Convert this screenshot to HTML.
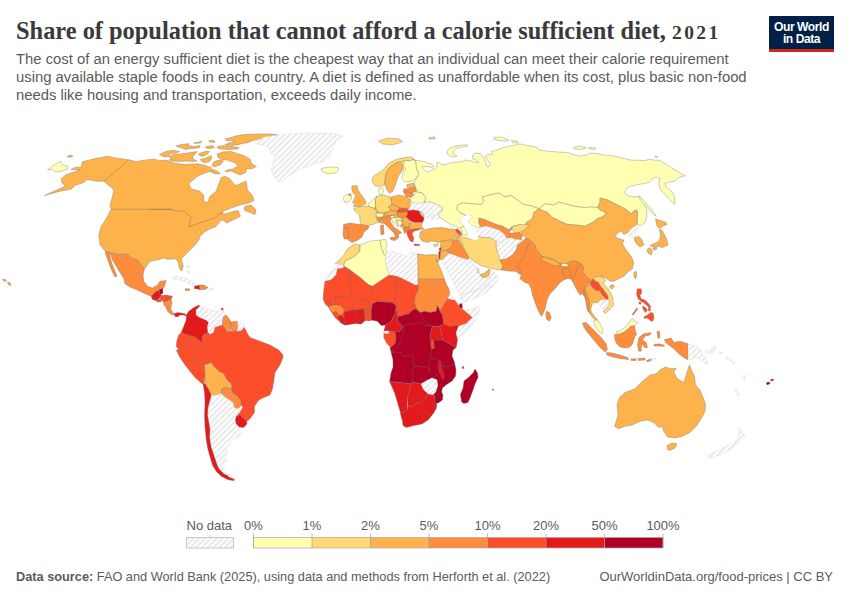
<!DOCTYPE html>
<html><head><meta charset="utf-8">
<style>
html,body{margin:0;padding:0;background:#fff;}
body{width:850px;height:600px;position:relative;overflow:hidden;font-family:"Liberation Sans",sans-serif;}
#title{position:absolute;left:16px;top:16.5px;font-family:"Liberation Serif",serif;font-weight:bold;font-size:24.4px;color:#3a3a3a;white-space:nowrap;letter-spacing:0px;line-height:28px;}
#sub{position:absolute;left:16px;top:49.5px;font-size:14.83px;line-height:18px;color:#5b5b5b;white-space:nowrap;}
#logo{position:absolute;left:769px;top:16px;width:65px;height:36px;background:#002147;border-bottom:0;}
#logo:after{content:"";position:absolute;left:0;right:0;bottom:0;height:3px;background:#ce261e;}
#logo div{position:absolute;left:0;right:0;text-align:center;color:#fff;font-weight:bold;font-size:12.1px;line-height:12px;letter-spacing:-0.45px;}
.lg{position:absolute;font-size:13px;color:#5b5b5b;top:518px;white-space:nowrap;}
#foot1{position:absolute;left:16px;top:569px;font-size:12.75px;color:#5b5b5b;white-space:nowrap;}
#foot2{position:absolute;right:17px;top:569px;font-size:13px;color:#5b5b5b;white-space:nowrap;}
svg{position:absolute;left:0;top:0;}
</style></head><body>
<div id="title">Share of population that cannot afford a calorie sufficient diet, <span style="font-size:19.5px;letter-spacing:2.4px">2021</span></div>
<div id="sub">The cost of an energy sufficient diet is the cheapest way that an individual can meet their calorie requirement<br>using available staple foods in each country. A diet is defined as unaffordable when its cost, plus basic non-food<br>needs like housing and transportation, exceeds daily income.</div>
<div id="logo"><div style="top:4.5px">Our World</div><div style="top:16.5px">in Data</div></div>
<svg width="850" height="600" viewBox="0 0 850 600">
<defs><pattern id="hatch" width="4.1" height="4.1" patternUnits="userSpaceOnUse" patternTransform="rotate(-45)"><rect width="4.1" height="4.1" fill="#fff"/><rect width="4.1" height="2" fill="#e9e9e9"/></pattern></defs>
<g stroke="#6b6b6b" stroke-width="0.35" stroke-linejoin="round">
<path d="M70.8,169.5L75,167.5L81.2,167L82.5,161.8L93.8,158.8L107.5,156.2L117.5,158.2L128.8,159.8L136.2,161.5L145,160L153,159L160,160.5L166.2,160L175,163.2L185,164.5L197.5,163.8L203.8,165L211.2,167.5L212.5,171.2L206.2,172.5L197.5,176.2L188.8,183.8L191.2,188.8L200,191.2L203.8,195.5L203.8,201.2L207.5,202.5L210,196.2L216.2,191.2L218.8,183.8L221.2,177.5L225,176.2L230,178.8L233.8,183.8L236.2,185.5L242.5,182.5L246.2,181.2L247.5,190L252.5,195.5L253.8,200.5L248.8,203L240,205L232.5,207.5L225,210.5L221.2,213L225,214L232.5,211.5L238,210.5L240.5,216.2L233,220L226.2,223.2L225,221.2L221.2,220L216.2,226.2L208.8,229.5L203.8,232.5L200,236.2L198.8,240L196.2,243.8L192.5,247.5L187.5,252.5L183.8,256.2L181.2,258.8L183.2,266.2L181.8,271.2L179.5,268.8L178,261.2L175,258.8L167.5,259.5L163.8,258L157.5,260L150,261.2L144.5,268.8L141.2,265L137.5,260L132.5,258.8L127.5,254.2L117.5,254.2L110,251.8L105.5,251.8L100,245L98.8,235L101.2,226.2L106.2,218.8L110,211.2L111.2,209.2L110,205L112.5,196.2L113.8,190L110,186.2L105,182.5L103.8,181.2L96.2,181.2L87.5,179.5L83.8,182.5L75,185.5L71.2,189.2L60,191.2L44.5,195.5L53.8,191.2L65.5,186.2L62,183L61.2,178.8L65.5,175L73.8,172L80,170Z" fill="#feb24c"/>
<path d="M245,206.2L251.2,205L256.2,210L255,214.5L250,212.5L246.2,211.2L243.8,209.5Z" fill="#feb24c"/>
<path d="M225.1,139L231.4,137.4L236.1,135.8L243.9,134.6L256.4,133.9L268.9,133.9L277.5,134.6L272.1,136.6L262.7,138.2L253.3,140.5L247,142.9L242.3,143.6L237.6,144.9L231.4,145.5L225.1,144.9L228.2,142.9L234.5,141.8L231.4,140.5L226.7,140.8Z" fill="#feb24c"/>
<path d="M217.3,146.5L223.6,145.5L231.4,146.5L239.2,147.6L237.6,149.1L228.2,149.6L220.4,149.1L217.6,148Z" fill="#feb24c"/>
<path d="M175.8,146L181.3,144.4L189.1,143.6L187.6,145.5L193.8,146.5L200.1,145.5L199.8,147.6L195.4,148.3L189.1,148.7L186,149.6L181.3,148Z" fill="#feb24c"/>
<path d="M193.8,142.9L201.6,141.3L200.9,142.9L195.4,143.6Z" fill="#feb24c"/>
<path d="M208.7,140.8L214.2,140.5L214.9,142.4L209.5,142.1Z" fill="#feb24c"/>
<path d="M205.6,146.8L212.6,145.5L214.2,147.6L209.5,148.7L206,148Z" fill="#feb24c"/>
<path d="M159.4,154.6L165.6,151.5L173.5,150.2L179.7,151.5L176.6,153L170.3,153.8L168.8,156.2L164.1,157Z" fill="#feb24c"/>
<path d="M168.8,157L173.5,154.6L181.3,153.8L189.1,152.7L196.9,151.5L195.4,153.8L192.3,157L193.8,159.3L196.9,160.9L192.3,161.6L186,160.9L179.7,161.6L173.5,161.2L168.8,160.1L171.9,158.5Z" fill="#feb24c"/>
<path d="M198.5,153.8L204.8,151.5L209.5,151.2L207.9,153.8L203.2,156.2L200.1,155.9Z" fill="#feb24c"/>
<path d="M200.1,159.3L204.8,158.5L211,155.4L211.8,158.5L209.5,161.6L204.8,162.7L201.6,161.6Z" fill="#feb24c"/>
<path d="M217.3,153.8L223.6,151.8L231.4,151.5L237.6,153.8L243.9,155.4L250.2,159.3L251.7,164L256.4,166.3L251.7,169L247,168.4L245.5,172.6L240.8,174.9L236.1,173.4L231.4,171L225.1,171.8L226.7,169.9L232.9,169L237.6,166.3L236.1,163.2L231.4,161.6L226.7,160.1L220.4,159.3L217.6,157Z" fill="#feb24c"/>
<path d="M212.6,169.5L217.3,171L220.4,173.4L215.7,174.2L211.8,172.6Z" fill="#feb24c"/>
<path d="M211.8,164.8L214.2,161.6L218.9,160.1L223.6,160.9L220.4,164.8L214.2,167.1Z" fill="#feb24c"/>
<path d="M47.5,170L53.8,165L60.8,161.2L62.5,165L67.5,166.2L68,168.8L61.2,171.2L56.2,172L52.5,169.5Z" fill="#ffffb2"/>
<path d="M67,156.2L71.2,155L73,156.5L68.8,157.5Z" fill="#feb24c"/>
<path d="M255,142L263.8,137L275,135.5L290,133.8L305,133L322.5,133L335,133.8L343.8,136.2L336.2,140L335,145L331.2,151.2L330,157.5L325,161.2L315,163.8L305,167.5L296.2,171.2L288.8,176.2L282.5,181.2L277.5,181.2L273.8,176.2L271.2,170L272.5,163.8L275,157.5L270,152.5L268.8,147.5L262.5,145L255,143.8Z" fill="url(#hatch)" stroke="#d4d4d4"/>
<path d="M321.2,168.8L325,167.5L331.2,167L337.5,167.5L338.8,170L336.2,172.5L330,173.8L325,173L322,171.2Z" fill="#ffffb2"/>
<path d="M2.5,279.5L5,279L6.5,281L4,281.5Z" fill="#feb24c"/>
<path d="M7.5,282L10,282.5L11,285.5L8.5,285Z" fill="#feb24c"/>
<path d="M187,334L195,335.5L191,340Z" fill="#fc4e2a" stroke="none"/>
<path d="M110,252.5L117.5,254.5L127.5,254.5L132.5,258.8L137.5,260L141.2,265L144.5,268.8L143,275L143.8,281.2L147.5,286.2L152.5,288L157.5,285L160,281.2L166.2,280.5L164.5,286.2L162.5,289.5L159.5,290L157,291.2L153.8,293.8L151.2,296.2L145,293.8L137.5,290L130,287L125,283.8L123.8,278.8L120,272.5L116.2,266.2L112.5,260Z" fill="#fd8d3c"/>
<path d="M105.5,251.8L109.5,252L110.5,258.8L112.5,265L115,271.2L117,276.2L115,277L112,271.2L109.5,265L107.5,258.8L105.5,253.8Z" fill="#fd8d3c"/>
<path d="M159,290L162.5,288.2L163,293L160.2,295Z" fill="#b10026"/>
<path d="M151.2,296.2L153.8,293.8L156.2,291.2L159.5,290.8L160,293.8L161.2,295.5L158.8,298.8L155.5,300.5L152.5,299.5Z" fill="#e31a1c"/>
<path d="M161.2,295.5L166.2,295L172.5,296.2L171.2,298.8L167,301.2L163.8,302L161.2,300L159.5,298.8Z" fill="#fc4e2a"/>
<path d="M155.5,300.5L158.8,299L161.2,300.2L160.8,302L157,301.8Z" fill="#fc4e2a"/>
<path d="M163.8,302L167,301.2L171.2,298.8L172,303.8L170.5,308.8L166.2,307.5L163.8,305Z" fill="#fd8d3c"/>
<path d="M166.2,307.5L170.5,308.8L173,312.5L173.8,315L171.2,314.5L167.5,311.2Z" fill="#fd8d3c"/>
<path d="M173.8,313.8L177.5,312.5L181.2,313L185,313.8L186.2,316.2L183.8,315L180,315L177.5,317L175,316.2Z" fill="#e31a1c"/>
<path d="M171.2,277.5L177.5,276.2L185,277.5L191.2,281.2L196.2,284.5L192.5,285L186.2,282.5L180,280L173.8,279.5Z" fill="url(#hatch)" stroke="#d4d4d4"/>
<path d="M185,288.8L189.5,288.8L189.5,290.5L185.5,290.5Z" fill="#fd8d3c"/>
<path d="M194.5,286.2L199.5,285L200,289.5L196.2,288.8L194.5,288.8Z" fill="#e31a1c"/>
<path d="M199.5,285L203.8,285L208,287.5L205,289.5L200,289.5Z" fill="#fd8d3c"/>
<path d="M209.5,288.2L213.8,288.2L213.8,289.8L209.5,289.8Z" fill="url(#hatch)" stroke="#d4d4d4"/>
<path d="M186.2,266.2L188.8,265.8L189.2,268L186.8,268Z" fill="url(#hatch)" stroke="#d4d4d4"/>
<path d="M187.5,271.2L189.2,270.8L189.5,273.8L187.8,274Z" fill="url(#hatch)" stroke="#d4d4d4"/>
<path d="M221.2,308.2L223,308L223.2,310.5L221.5,310.8Z" fill="#e31a1c"/>
<path d="M186.2,315L188.8,311.2L193.8,307.5L198.8,305L200,306.2L196.2,310L196.2,315L200,317.5L206.2,320L208.8,322.5L207.5,326.2L208,332.5L205,333.8L202.5,336.2L202.5,343.8L198.8,340L193.8,336.2L188.8,335L183.8,333.8L181.2,332.5L183.8,326.2L186.2,320Z" fill="#e31a1c"/>
<path d="M196.2,310L200,306.2L205,307.5L211.2,310L217.5,311.2L222.5,310L225,313.8L223.8,317.5L222.5,322.5L218.8,326.2L215,327.5L213.8,332.5L210,334.5L208,332.5L207.5,326.2L208.8,322.5L206.2,320L200,317.5L196.2,315Z" fill="url(#hatch)" stroke="#d4d4d4"/>
<path d="M223.8,316.2L226.2,315L230,320L231.2,325L230,331.2L227.5,333L225,328.8L222.5,325L222.5,321.2Z" fill="#fd8d3c"/>
<path d="M230,322L237.5,321.2L238,327.5L236.2,331.2L231.2,330.5L231.2,325Z" fill="#fd8d3c"/>
<path d="M237.5,322L242.5,323.8L244.5,327.5L240.5,331.2L238,330L238,326.2Z" fill="url(#hatch)" stroke="#d4d4d4"/>
<path d="M181.2,332.5L183.8,333.8L188.8,335L190,338.8L186.2,343.8L182.5,347.5L178.8,350L176.2,346.2L177,340L178.8,335Z" fill="#fc4e2a"/>
<path d="M178.8,350L182.5,347.5L186.2,343.8L190,338.8L193.8,336.2L198.8,340L202.5,343.8L198.8,346.2L195,350L193.8,356.2L198.8,362.5L203.8,363L204.5,365L205,375L203.8,384.5L201.2,383L195,377.5L185,365L180,357.5L176.2,350Z" fill="#fc4e2a"/>
<path d="M202.5,343.8L202.5,336.2L205,333.8L208,332.5L210,334.5L213.8,332.5L215,327.5L218.8,326.2L222.5,325L225,328.8L227.5,333L230,331.2L236.2,331.2L240.5,331.2L244.5,327.5L247.5,333.8L250,337.5L260,341.2L270,345L278.8,350L283,355L283,357.5L280,365L275,372.5L273.8,381.2L272.5,388.8L270,395L263.8,397.5L258.8,400L254.5,406.2L254.5,412.5L250,418.8L246.2,422L240,415L236.2,416.2L239.5,412.5L242.5,407.5L241.2,405.5L240.5,400L237.5,396.2L232.5,392.5L231.2,388.8L232,388L231.2,383.8L227,380L223.8,373.8L218.8,371.2L213.8,366.2L211.2,362.5L204.5,365L203.8,363L198.8,362.5L193.8,356.2L195,350L198.8,346.2Z" fill="#fc4e2a"/>
<path d="M204.5,365L211.2,362.5L213.8,366.2L218.8,371.2L223.8,373.8L227,380L231.2,383.8L232,388L225.5,387.5L222,388.8L221.2,393.8L216.2,395L211.2,395.5L208.8,390L205,383.8L205,375Z" fill="#feb24c"/>
<path d="M222,388.8L225.5,387.5L231.2,388.8L232.5,392.5L237.5,396.2L240.5,400L241.2,405.5L238.8,408.8L234.5,408L233,402.5L227.5,398.8L223.8,396.2L221.2,392.5Z" fill="#fd8d3c"/>
<path d="M236.2,416.2L240,415L246.2,421.2L247,423.8L243.8,427.5L238.8,427L235.8,423.8L235,419.5Z" fill="#e31a1c"/>
<path d="M211.2,395.5L216.2,395L221.2,393.8L223.8,396.2L227.5,398.8L233,402.5L234.5,408L238.8,408.8L241.2,405.5L242.5,407.5L239.5,412.5L236.2,416.2L235,419.5L235.8,423.8L238.8,427L240.5,432.5L239.5,436.2L235,438.8L231.2,440L230,445L226.2,447.5L227,452.5L224.5,457.5L227.5,461.2L225.5,465L222.5,467.5L223.8,471.2L227.5,473.8L228.8,476.2L223.8,473.8L218.8,468.8L216.2,462.5L213.8,455L211.2,447.5L209.5,437.5L210,430L208.8,422.5L207.5,415L208,407.5L210,400Z" fill="url(#hatch)" stroke="#d4d4d4"/>
<path d="M203,383.8L205,383.8L208.8,390L211.2,395.5L210,400L208,407.5L207.5,415L208.8,422.5L210,430L209.5,437.5L211.2,447.5L213.8,455L216.2,462.5L218.8,468.8L223.8,473.8L228.8,476.2L234.5,478.8L233.8,480.8L227.5,479.5L221.2,476.2L216.2,471.2L212.5,465L209.5,455L207.5,447.5L206.2,438.8L205,427.5L204.5,415L205,402.5L204.5,392.5Z" fill="#e31a1c"/>
<path d="M227,473.2L232.5,477L236.2,478.8L234.5,479.2L228.8,476.8Z" fill="url(#hatch)" stroke="#d4d4d4"/>
<path d="M458.5,235.5L460,235L470,257L465,257.5L458,242Z" fill="#fed976" stroke="none"/>
<path d="M360,210L370,205.6L376.4,198.4L390,197.4L406,197.2L410,200L410.6,208L408,210L407,217L410,223L409.6,228.6L406,230L403,227L399,224.4L394.4,219L390,217L378,218.4L375.6,222L362,223Z" fill="#feb24c" stroke="none"/>
<path d="M386.4,172.4L390,167.2L397,162.6L400.4,161.6L404.4,160L403.6,164L399,164.4L390.4,170.4L387.2,180L385.8,184.4Z" fill="#fed976" stroke="none"/>
<path d="M343.6,197L347,194.4L351,195L351.6,199L349,201.6L345,202.4L343.6,200Z" fill="#ffffb2"/>
<path d="M352,186L357,185.6L358,190L360,193L363,197L366,201.6L365.6,204L360,206.4L353,206.6L355,204L352.4,202.4L354.4,199L355.6,195.6L353,193L351.6,189Z" fill="#feb24c"/>
<path d="M348.4,194L351,193.6L351,195.6L349,196Z" fill="#feb24c"/>
<path d="M372.4,177L375,175L382,171L389,163L396,159.6L404,157.6L412,157L414,159L410,161L405,160.4L400,162L397,162.4L390,167L386,173L385,180L384.4,185L380,186.4L375,186L372.4,182Z" fill="#fed976"/>
<path d="M386,173L390,167L397,162.4L400,162L403,165L403.6,169L399,175L397,180L395,186L393,191L389.6,193.6L387,190L385,185L385,180Z" fill="#feb24c"/>
<path d="M403,165L405,160.4L410,161L414,159L416,162L416.4,168L419,174L416,179L410,181.6L404,181.6L401.6,178L403,173L406,169Z" fill="#ffffb2"/>
<path d="M379,188.4L382.4,187.6L383.6,191L382.4,194.4L379.6,194.4L378.4,191.6Z" fill="#ffffb2"/>
<path d="M407,184.4L414,183L415.6,187L409,188.4L407,187Z" fill="#feb24c"/>
<path d="M403.6,189L409,188.4L415.6,187.6L417,191L412,193L407,192L403.6,192.4Z" fill="#fd8d3c"/>
<path d="M404,192.6L407,192L412,193L414,195L411,197.6L406,196.4Z" fill="#fd8d3c"/>
<path d="M411,197.6L414,195L417,191.6L422.4,193L426,198L424,202.4L418,203.6L411,202.4L410,199.6Z" fill="#ffffb2"/>
<path d="M391,197L399,195L406,196.4L410,199.6L411,203L409.6,208L403,208.4L398,207L392,204L391,200Z" fill="#feb24c"/>
<path d="M376.4,196.4L382.4,195L390,196.4L391,200L392,204L388.4,207L391,210.4L387,212.4L381,213L376.4,211L375.6,206L375,201Z" fill="#fed976"/>
<path d="M370,202.4L375,198L376.4,196.4L375,201L375.6,206L373.6,208.4L369,206.4L368,204Z" fill="#ffffb2"/>
<path d="M353.6,208.4L360,207L365,206L369,206.4L373.6,208.4L376.4,211L378,214L375.6,216L377,219L378,222.4L373,224.4L367,225.6L361,225L360,221L359.6,215L355,211Z" fill="#fed976"/>
<path d="M375.6,213.6L381,213L384,214.4L382.4,217L377,217Z" fill="#ffffb2"/>
<path d="M384,214.4L387,212.4L391,210.4L397,211L397.6,213.6L393,215.6L388,215.6Z" fill="#feb24c"/>
<path d="M388.4,207L392,204L398,207L400,208.4L397,211L391,210.4Z" fill="#feb24c"/>
<path d="M397,211L400,208.4L403,208.4L408.4,209L407,211.6L401,212.4L397.6,212.4Z" fill="#fc4e2a"/>
<path d="M397.6,212.4L401,212.4L407,211.6L408,213.6L405,217L400,217.6L397,215.6Z" fill="#fd8d3c"/>
<path d="M410,202.4L418,203.6L424,202.4L430,201.6L436,204L442.4,207L442,211L438,213.6L433,215L434,218L429,219L425.6,217L424,217.6L422.4,212.4L419,211L414,210L408.4,210.4L409.6,208L411,205Z" fill="url(#hatch)" stroke="#d4d4d4"/>
<path d="M431,216.5L435,215L439,216L442,217.5L440,219L436,218.5L434,220L432,219Z" fill="url(#hatch)" stroke="#d4d4d4"/>
<path d="M407,211.6L408.4,210.4L414,210L419,211L421,215L424,218L423.6,220.4L422.4,222.4L416,222.4L411,221.6L408.4,219L406,217L408,213.6Z" fill="#e31a1c"/>
<path d="M419,211L422.4,212.4L424,217L421.6,215.6Z" fill="#fed976"/>
<path d="M377,219L381,217.6L387,216L393,216L393.6,218.4L390,219.6L391,223L394,227L398,230L401.6,232.4L400,234L398,233L399,237L397,239.6L395.6,236.4L394,233L390,229L386,225L383,222.4L379,222.4Z" fill="#fd8d3c"/>
<path d="M380.4,225.6L383.6,225L384,234L381,235Z" fill="#fd8d3c"/>
<path d="M390,237.6L396,237L395.6,240.4L391,240Z" fill="#fd8d3c"/>
<path d="M381,220.4L383,220.4L383,224L381.4,224Z" fill="#fed976"/>
<path d="M343.6,224.4L350,223L360,224.4L369,226L368,229L364,232L362,237L358,240L352,242.4L349,240.4L347.6,239L348.4,234L348,228L343.6,227.6Z" fill="#fd8d3c"/>
<path d="M343.6,227.6L348,228L348.4,234L347.6,239L344,239L343,234Z" fill="#fd8d3c"/>
<path d="M390,216L394,215.6L394,218L391,218.4Z" fill="#ffffb2"/>
<path d="M391,218.4L394,218L399,217.6L403,219L401,220.4L397,220L395,222L399,226L397,226.4L393,222.4Z" fill="#ffffb2"/>
<path d="M397,220L401,220.4L402.4,223.6L400,226L397.6,224Z" fill="#ffffb2"/>
<path d="M403,217.6L406,217L408.4,219L410,223L408.4,227L405,227L403,224L402.4,221Z" fill="#feb24c"/>
<path d="M400,226L403,224.4L405,227L403,228.4Z" fill="#feb24c"/>
<path d="M403,228.4L405.6,227.6L406.4,232L404.4,233.6Z" fill="#fd8d3c"/>
<path d="M405.6,227.6L409.6,227L410,229.6L406.4,230.4Z" fill="#fd8d3c"/>
<path d="M410,223L416,222.4L422.4,222.4L421.6,226L420,228.4L414,229L410,228.4L409.6,225.6Z" fill="#feb24c"/>
<path d="M406.4,231L410,229.6L415,229L419.6,228.4L419,230L414,231L412,234L414,238L413,242L410,241L407.6,236Z" fill="#fc4e2a"/>
<path d="M414,244L419.6,244.4L419.6,245.6L414.4,245.4Z" fill="#e31a1c"/>
<path d="M419.6,228.4L422.4,227L424,229L421,230Z" fill="#feb24c"/>
<path d="M420,232L424,230L432,228L442,227.6L450,229L458,230L460,235L458,239L450,240L443,241L439,242.4L432,241L427,242.4L422,241L419.6,237Z" fill="#feb24c"/>
<path d="M433.6,244.4L438,243.6L437.6,246L434,246.4Z" fill="#fed976"/>
<path d="M441,241.6L450,240L454,240.4L452.4,246L447,250L442,251L440.4,246Z" fill="#feb24c"/>
<path d="M439.4,248L441.2,247.6L440.8,251L439.4,251.6Z" fill="#e31a1c"/>
<path d="M438.6,252L440.6,251.6L440.4,257L439,259.6Z" fill="#e31a1c"/>
<path d="M440.6,251.6L447,250L449,253L445,257L442,260L440,259Z" fill="#feb24c"/>
<path d="M452.4,241L458,239.6L461,244L464,250L469,256L468,260L462,259.6L455,255L449,253L447,250L452.4,246Z" fill="#fd8d3c"/>
<path d="M335,263.8L343.8,255L347.5,248.8L355,243.8L360,245L360,251.2L356.2,255L352.5,257.5L345,261.2L343.8,265Z" fill="#fed976"/>
<path d="M325,280L330,272.5L335,265L335,263.8L343.8,265L343.8,268L337.5,268.8L336.2,275L331.2,280Z" fill="url(#hatch)" stroke="#d4d4d4"/>
<path d="M343.8,265L345,261.2L352.5,257.5L356.2,255L360,251.2L360,245L370,241.2L380,240L381.2,246.2L383.8,253.8L386.2,256.2L385.5,262.5L387.5,268.8L389.5,275L380,281.2L372.5,286.2L368.8,285L360,277.5L350,270L343.8,266.2Z" fill="#ffffb2"/>
<path d="M380,240L385.5,239.5L387,245L385.5,248.8L387.5,252.5L385.5,256.2L383.8,253.8L381.2,246.2Z" fill="#ffffb2"/>
<path d="M385.5,256.2L387.5,252.5L392.5,251.2L400,253.8L406.2,256.2L411.2,252.5L417.5,253.8L418,265L418,285L415,285L400,277.5L396.2,276.2L389.5,275L387.5,268.8L385.5,262.5Z" fill="url(#hatch)" stroke="#d4d4d4"/>
<path d="M417.5,253.8L425,255L433.8,254.5L437.5,255L439.5,260L437.5,262.5L436.2,258.8L440,267.5L442.5,273.8L444.5,279.2L418,279.2L418,265Z" fill="#feb24c"/>
<path d="M418,279.2L444.5,279.2L446.2,283.8L448.8,288.8L450,293.8L448,298.8L445,302.5L442.5,307.5L440,311.2L437.5,305.5L436.2,311.2L430,312.5L425,311.2L420,312.5L416.2,308.8L414.5,302.5L415,296.2L418,290L418,285Z" fill="#fd8d3c"/>
<path d="M325,281.2L331.2,280L336.2,275L337.5,268.8L343.8,268L343.8,266.2L350,270L360,277.5L368.8,285L372.5,286.2L380,281.2L389.5,275L396.2,276.2L400,277.5L415,285L418,285L418,290L415,296.2L414.5,302.5L416.2,308.8L412.5,310L408.8,313.8L403.8,315L400,316.2L397.5,316.2L396.2,306.2L392.5,302.5L383.8,302L377.5,301.2L372.5,303.8L371.2,311.2L371.2,320.2L368,320.8L365,320.5L361.2,324L356.2,323.2L350,324.2L345,325L341.2,323L335,317.5L332.5,313.8L328.8,307.5L325,303.8L323,298.8L323.8,290Z" fill="#fc4e2a"/>
<path d="M371.2,311.2L372.5,303.8L377.5,301.2L383.8,302L392.5,302.5L396.2,306.2L395,313.8L391.2,321.2L385.5,325L381.2,325.5L377.5,321.2L371.2,320Z" fill="#b10026"/>
<path d="M367.5,308.8L371.2,306.2L371.2,311.2L371.2,320.2L368,320.8Z" fill="#fc4e2a"/>
<path d="M356.2,310L363.8,308.8L365,320.5L361.2,324L356.2,323.2Z" fill="#e31a1c"/>
<path d="M343.8,312.5L352.5,310L356.2,310L356.2,323.2L350,324.2L345,325L344.5,318.8Z" fill="#e31a1c"/>
<path d="M337.5,317.5L341.2,315L344.5,318.8L345,325L341.2,323Z" fill="#e31a1c"/>
<path d="M328.8,306.2L333.8,304.5L340,305.5L343.8,308.8L343.8,312.5L341.2,315L338.8,315L336.2,311.2L332.5,313L330,310Z" fill="#fd8d3c"/>
<path d="M325.5,300.8L331.2,300.8L331.2,302.2L325.5,302.2Z" fill="#fc4e2a"/>
<path d="M383.8,331.2L385.5,325L391.2,321.2L395,313.8L396.2,306.2L397.5,316.2L397.5,320L400,323.8L402.5,327.5L400,331.2L395,332L388.8,331.2L384.5,331Z" fill="#e31a1c"/>
<path d="M383.8,333L388.8,331.2L395,332L396.2,337.5L395,343.8L390.5,347.5L386.2,342.5L383.8,337.5Z" fill="#fc4e2a"/>
<path d="M384.5,331L388.8,331L388.8,333.5L384.5,333.5Z" fill="url(#hatch)" stroke="#d4d4d4"/>
<path d="M397.5,316.2L400,316.2L403.8,315L408.8,313.8L412.5,310L416.2,308.8L420,312.5L425,311.2L430,312.5L436.2,311.2L437.5,305.5L440,311.2L442.5,315L443.8,323.8L439.5,326.2L432.5,326.2L431.2,330L430,338.8L432.5,340L442.5,340L456.2,347.5L453,350L452,356L454.4,362L455,365L456,370L455.6,376L452,381L446,385L442.4,388L441.6,392L443,395L442.4,400L439,402.4L435.6,404L435,403L434.4,395L433,394.4L435.6,392L437.6,386L437,380L432,378L426,381L421,384L413.6,382.4L410,383.6L398,382.4L389.6,381.6L391,373L393,367L393,360L390,348L390.5,347.5L395,343.8L396.2,337.5L395,332L400,331.2L402.5,327.5L400,323.8L397.5,320Z" fill="#b10026"/>
<path d="M432.5,326.2L439.5,326.2L441.2,332.5L442.5,340L432.5,340L430,338.8L431.2,330Z" fill="#e31a1c"/>
<path d="M439.5,326.2L443.8,323.8L450,326.2L456.2,325L458.8,326.2L456.2,332.5L457.5,340L456.2,347.5L442.5,340L441.2,332.5Z" fill="#e31a1c"/>
<path d="M442.5,307.5L445,302.5L448,298.8L455,300L460,305.5L462.5,308.8L470,315L472.5,317.5L466.2,323.8L458.8,326.2L456.2,325L450,326.2L443.8,323.8L442.5,315L440,311.2Z" fill="#fc4e2a"/>
<path d="M448,298.8L450,293.8L455,298.8L460,304.5L458.8,305.5L455,300Z" fill="url(#hatch)" stroke="#d4d4d4"/>
<path d="M459.5,304L462,303.5L462.5,307.5L460,308Z" fill="#b10026"/>
<path d="M462.5,308.8L470,310L480,306.2L478.8,312.5L473.8,322.5L466.2,331.2L458.8,340L457,336.2L456.2,332.5L458.8,326.2L466.2,323.8L472.5,317.5L470,315Z" fill="url(#hatch)" stroke="#d4d4d4"/>
<path d="M430.4,340.4L433.6,340L434.4,348.4L431.2,349Z" fill="#fc4e2a"/>
<path d="M438.4,361.6L441,362L442,369L444.4,375L443.6,379.6L441.6,378L440,373L438.4,368Z" fill="#e31a1c"/>
<path d="M389.6,381.6L398,382.4L410,383.6L413.6,382.4L411,385L409,392L408,394L407,410L403,412.4L400,411L397.6,403L395,394L392,387Z" fill="#e31a1c"/>
<path d="M410,383.6L413.6,382.4L421,384L424,390L428,394L424,399L420,403L415,404L411,407L408,405.6L408,394L409,392L411,385Z" fill="#e31a1c"/>
<path d="M400,411L403,412.4L407,410L408,405.6L411,407L415,404L420,403L424,399L428,394L434.4,395L435,403L437,405L436,409L433,414L428,420L422,424L414,425.6L406.4,427.6L403,425.6L402.4,421L401,416Z" fill="#e31a1c"/>
<path d="M423,413L425.6,411L428,413L427,416L424,416.6Z" fill="#e31a1c"/>
<path d="M431.6,404.4L434,404L434.4,407.6L432,408Z" fill="#e31a1c"/>
<path d="M421,384L426,381L432,378L437,380L437.6,386L435.6,392L433,394.4L429,394L424,390Z" fill="url(#hatch)" stroke="#d4d4d4"/>
<path d="M475,369L477.6,373L478,377.6L475,384L473,390L470,398L468,402.4L464,403.6L461.6,402L460.4,394.4L463,388L464,381L469,377L473,373Z" fill="#b10026"/>
<path d="M462,366.6L463.6,366.6L464,368.4L462.4,368.4Z" fill="#e31a1c"/>
<path d="M492.4,389L493.8,389L493.8,390.4L492.4,390.4Z" fill="#fd8d3c"/>
<path d="M413.1,160L418.8,160.6L425,161.9L430.6,163.8L433.5,165.6L432.8,168.1L429.4,166.9L425,166.5L421.9,166.9L423.8,169.4L426.9,171.9L430,171.2L433.1,169.4L436.2,167.8L437.5,165L436.5,162.8L438.8,162.2L441.2,164.4L444.4,165L447.5,163.8L451.2,162.5L455,162.2L458.8,161.9L463.1,161.2L465,160L469.4,160.6L473.8,161.9L478.8,162.8L476.9,160.6L473.1,158.8L472.5,155.6L475,153.1L480,153.5L482.5,156.2L485,160L486.2,164.4L487.5,166.9L489.8,166.2L490,163.8L487.5,160L485,156.2L487.5,154.8L492.5,153.8L491.9,151.2L496.2,150.6L500,148.8L505,147L515,145L520,143.8L526.2,145.5L536.2,147L538.8,150L547.5,151.2L557.5,152L567.5,152.5L575,155L580,156.2L586.2,155L590,153L600,153.8L600,154.5L615,156.2L630,160L645,160.5L648.8,159.5L660,160.5L667.5,165L675,170L685,175.8L678.8,177.5L675,181.2L670,182L665.5,183L665.5,186.2L670,190L673.8,193.8L675,202.5L674.5,204.5L670,200L665,194.5L660,188.8L658.8,183.8L660,178.8L656.2,177L651.2,179.5L648.8,182.5L642.5,183.8L635,185L627.5,187.5L624.5,192.5L627.5,195.5L633.8,197L639.5,196.2L642.5,200L646.2,207.5L647,216.2L645,223L640.5,225.5L637.5,224.5L637,220L637.5,211.2L635,210L631.2,213.8L625,208.8L615,203.8L607.5,200L600,198L600,202.5L597.5,207.5L592.5,207L583.8,207.5L573.8,206.2L565,203.8L558.8,202L553.8,205L545,203.8L538.8,208.8L532.5,206.2L523.8,204.5L517.5,200L511.2,195.5L505,197L498.8,193L490,195L482.5,197L483.8,201.2L481.2,204.5L472.5,203.8L462.5,203L457.5,205L457,209.5L460,212.5L465,215L464,216L460.5,220L460,221.5L462,223.5L464,226L460,228.5L455.5,226.2L453,225L450,224L446,221.5L441.5,218.5L439,216L438,213.6L442,211L442.4,207L436,204L430,201.6L424,202.4L426,198L422.4,193L417,191.6L415.6,187L414,183L416,179L419,174L416.4,168L416,162L414,159Z" fill="#ffffb2"/>
<path d="M446.9,153.8L447.5,150.6L450,148.1L455,146.2L461.2,145.2L467.5,144.8L466.9,146.2L462.5,146.9L457.5,148.1L453.8,150.6L453.1,153.8L456.9,156.2L453.8,157.2L450,156.2Z" fill="#ffffb2"/>
<path d="M493.8,137.5L501.2,137L508.8,140L507,141.2L500,140.5L493.8,139.5Z" fill="#ffffb2"/>
<path d="M511.2,140.5L517.5,141.2L518,143L512.5,142.5Z" fill="#ffffb2"/>
<path d="M573.8,147L582.5,146.2L586.2,148L580,149.5L574.5,148.8Z" fill="#ffffb2"/>
<path d="M588.8,147.5L596.2,148L595,149.5L589.5,149Z" fill="#ffffb2"/>
<path d="M655,155.8L658,156.5L657.5,157.5L655,157Z" fill="#ffffb2"/>
<path d="M639.5,196.2L643,199.5L648.8,206.2L653.8,212.5L656.2,216.2L652.5,213.8L647.5,208L642.5,202.5L638.8,197.5Z" fill="#ffffb2"/>
<path d="M378.5,141L387.5,138L400,139L402.5,142L392.5,145L382.5,144Z" fill="#fed976"/>
<path d="M429,137.5L435,137L435,139L429,139Z" fill="#fed976"/>
<path d="M465,215L460,212.5L457,209.5L457.5,205L462.5,203L472.5,203.8L481.2,204.5L483.8,201.2L482.5,197L490,195L498.8,193L505,197L511.2,195.5L517.5,200L523.8,204.5L532.5,206.2L538.8,208.8L533.8,212.5L532.5,218.8L526.2,222.5L525,226.2L520,224.5L512.5,226.2L508.8,230L502.5,226.2L496.2,224.5L488.8,222L485,223L480,218.8L478.8,222.5L480,227.5L477.5,228L474,226.5L470,224L468,221.5L469,219.5L472,218L471.5,215.5Z" fill="#ffffb2"/>
<path d="M538.8,208.8L545,203.8L553.8,205L558.8,202L565,203.8L573.8,206.2L583.8,207.5L592.5,207L597.5,207.5L600,210L606.2,212.5L603.8,216.2L597.5,218.8L592.5,222.5L585,226.2L576.2,225L567.5,224.5L560,221.2L552.5,217.5L547.5,212.5L542.5,210.5Z" fill="#ffffb2"/>
<path d="M525,226.2L526.2,222.5L532.5,218.8L533.8,212.5L538.8,208.8L542.5,210.5L547.5,212.5L552.5,217.5L560,221.2L567.5,224.5L576.2,225L585,226.2L592.5,222.5L597.5,218.8L603.8,216.2L606.2,212.5L600,210L597.5,207.5L600,202.5L600,198L607.5,200L615,203.8L625,208.8L631.2,213.8L635,210L637.5,211.2L637,220L637.5,224.5L631.2,228.8L628,232.5L623.8,234.5L621.2,231.2L617.5,233L615,236.2L618.8,238.8L623.8,240L622.5,243.8L626.2,250L631.2,256.2L633.8,262.5L632.5,268.8L628.8,271.2L623.8,276.2L618.8,278.8L613.8,281.2L610,281.2L605,277.5L600,276.2L595,278.8L591.2,280L588.8,278.8L585,275L582.5,271.2L583.8,267.5L581.2,263.8L577.5,262L573.8,260.5L568.8,262.5L567.5,263.8L561.2,263.2L560,263.8L553.8,260L546.2,257.5L542.5,257L540,253.8L536.2,250L535,245L530,240L526.2,238L522.5,235L521.2,231.2Z" fill="#feb24c"/>
<path d="M633.8,272.5L636.2,271.2L636.9,275L635.6,279L634,276.9Z" fill="#feb24c"/>
<path d="M610,285.6L613.1,284.4L614.4,286.2L612.5,288.8L610.2,288.1Z" fill="#feb24c"/>
<path d="M628,232.5L631.2,228.8L637.5,224.5L638,228.8L635,232.5L636.2,236.2L634.5,238L630.5,237.5L628.8,235Z" fill="url(#hatch)" stroke="#d4d4d4"/>
<path d="M634.5,238L638.8,236.2L642,240L643.8,245L640,247L637,244.5L635,241.2Z" fill="#feb24c"/>
<path d="M655.5,218.8L660,220.5L665.5,222L667,224.5L662.5,226.2L659.5,228.8L657,226.2L656.2,222.5Z" fill="#feb24c"/>
<path d="M659.5,229.5L662,230L664.5,235L667,240L668,245L662.5,247.5L658,246.2L653.8,247.5L650,245.5L653.8,243.8L658.8,241.2L660.5,236.2Z" fill="#feb24c"/>
<path d="M647,249.5L650,247.5L652.5,251.2L651.2,255L648,253Z" fill="#feb24c"/>
<path d="M653,248L657,247.5L656.2,249.5L653.2,250Z" fill="#feb24c"/>
<path d="M511.2,227L520,224.5L529.5,225L525,229.5L520,232.5L514.5,233L512.5,230Z" fill="#fed976"/>
<path d="M508.8,233L514.5,233L520,232.5L522.5,235L521.2,240L515,239.5L510.5,237.5Z" fill="#fd8d3c"/>
<path d="M478.8,218L485,219.5L490,222L496.2,224.5L502.5,226.2L508.8,230L512.5,227L511.2,230L508.8,233L510.5,237.5L507,238.8L503.8,233.8L498.8,230L492.5,228L486.2,226.2L481.2,227.5L478.8,222.5Z" fill="#fd8d3c"/>
<path d="M472.5,230L477.5,227.5L481.2,227.5L486.2,226.2L492.5,228L498.8,230L503.8,233.8L507,238.8L502.5,242.5L496.2,241.2L490,237.5L483.8,237.5L477.5,236.2L474.5,235Z" fill="url(#hatch)" stroke="#d4d4d4"/>
<path d="M496.2,241.2L502.5,242.5L507,238.8L510.5,237.5L515,239.5L521.2,240L526.2,238L522.5,241.2L517.5,245L516.2,250L512.5,255L506.2,258.8L500,260L498,253.8L496.2,247.5Z" fill="url(#hatch)" stroke="#d4d4d4"/>
<path d="M458,235L463.8,237.5L467.5,238L472.5,239.5L474.5,235L477.5,236.2L483.8,237.5L490,237.5L496.2,241.2L496.2,247.5L498,253.8L500,260L503,266.2L501.2,270L492.5,268.8L486.2,267L481.2,265.8L475,262L470,258.2L466.2,253L464.8,250L462.5,243.8L461.2,241.2Z" fill="#fed976"/>
<path d="M443.4,261L446,258L450,254L455,256L462,258L469,260L472,261L475,265L478,269L479,273L481.6,275L481.6,277L486,277.4L489,275L490,270L494,272L498,277L497,281L492,287L487,292L478,297L470,300L463,303L462,300L460.4,295L456.4,288L452.4,281L448.4,273L444.4,266L442.4,263Z" fill="url(#hatch)" stroke="#d4d4d4"/>
<path d="M480,274.6L485,273L489,269L490,270L489,275L486,277.4L481.6,277Z" fill="#feb24c"/>
<path d="M477.2,269L478.8,268.6L479.2,272.6L477.6,273Z" fill="#ffffb2"/>
<path d="M501.2,270L503,266.2L500,260L506.2,258.8L512.5,255L516.2,250L517.5,245L522.5,241.2L526.2,238L530,240L535,245L536.2,250L540,253.8L542.5,257L546.2,257.5L553.8,260L560,263.8L561.2,263.2L567.5,263.8L568.8,262.5L573.8,260.5L577.5,262L581.2,263.8L583.8,267.5L582.5,271.2L585,275L588.8,278.8L591.2,280L590,283.8L586.2,286.2L585,290L587.5,295L586.2,300L588.8,305L590,310L590,313.8L588,310L587,303.8L585,297.5L582.5,293.8L580,295L577.5,291.2L575,286.2L572.5,281.2L570.5,278.8L566.2,278.8L563.8,280L560,282.5L555,288.8L550,293.8L547,300L545.5,307.5L542.5,315L541.2,316.2L538,310L535,302.5L532.5,295L531.2,288.8L528.8,283.8L525,282.5L520,278.8L521.2,275L517.5,272.5L515,271.2L510,271.2L505,270.5Z" fill="#fd8d3c"/>
<path d="M546.2,311.2L549.5,312.5L551.2,317.5L549.5,321.2L546.8,319.5L545.8,315Z" fill="#fd8d3c"/>
<path d="M542.5,257L546.2,257.5L553.8,260L560,263.8L559.5,266.2L552.5,265L545.5,262L541.2,259.5Z" fill="#feb24c"/>
<path d="M561.2,263.2L567.5,263.8L568,266.5L562,266.5Z" fill="#ffffb2"/>
<path d="M585,288.8L587.5,285.6L590.6,284.8L592.5,287.5L595.6,290L600,290.6L601.9,294.4L604.4,296.9L604.4,299.8L600.6,300L598.5,301.9L595.6,303.1L593.1,301.9L591.9,305.6L590.6,310L592.5,313.8L595,316.9L597.5,320L596.2,320.6L593.1,318.1L590.6,315L588.8,311.9L588.8,306.2L589.4,302.5L587.8,298.1L586.2,293.8Z" fill="#feb24c"/>
<path d="M590.6,281.9L593.1,278.8L595.6,281.2L598.8,282.5L600,285.6L603.1,288.8L605,291.9L607.5,295L608.5,298.8L606.2,300L604.4,296.9L601.9,294.4L600,290.6L595.6,290L592.5,287.5L590.6,284.8Z" fill="#fc4e2a"/>
<path d="M593.1,278.8L595.6,276.9L600,276.2L603.8,278.1L605.6,281.2L603.1,282.5L604.4,285L608.1,288.8L611.2,293.8L613.1,298.8L613.5,305.6L610,309.4L605,313.8L603.1,311.2L606.9,308.1L609,304.4L608.5,298.8L607.5,295L605,291.9L603.1,288.8L600,285.6L598.8,282.5L595.6,281.2Z" fill="#fed976"/>
<path d="M598.5,301.9L600.6,300L604.4,299.8L606.2,300L608.5,299.4L609,304.4L606.9,307.5L603.1,308.8L600,306.9L598.5,304.4Z" fill="url(#hatch)" stroke="#d4d4d4"/>
<path d="M594,320.6L596.2,320L598.8,321.2L601.2,326.2L603.1,331.2L602.2,333.5L598.8,331.2L595.6,326.9L593.8,323.1Z" fill="#ffffb2"/>
<path d="M614.4,334.4L616.9,334.4L620,333.8L623.8,331.9L628.1,328.8L630.6,326.2L634.4,325.6L635,328.8L635.6,332.5L636.9,334.4L635,336.2L633.8,340L632.5,343.8L630,346.9L625,348.1L620,346.9L616.2,343.1L614.8,338.8Z" fill="#fd8d3c"/>
<path d="M616.2,331.9L620,330.6L624.4,328.1L628.1,323.8L631.2,319.4L632.5,318.8L635.6,321.2L637.5,323.1L634.4,325.6L630.6,326.2L628.1,328.8L623.8,331.9L620,333.8L616.9,334.4Z" fill="#ffffb2"/>
<path d="M582.5,323L586.2,322.5L592.5,328.8L600,336.2L606.2,343.8L607.5,349.5L605,352L600,347.5L593.8,340L587.5,332.5L583.8,327Z" fill="#fd8d3c"/>
<path d="M606.2,352.5L612.5,353L620,355L627.5,357.5L628.8,359.5L621.2,358.8L612.5,357L607,355Z" fill="#fd8d3c"/>
<path d="M638.8,337.5L643.8,333.8L651.2,332.5L650,335L645,336.2L642.5,340L646.2,342.5L647.5,347.5L644.5,347.5L642.5,343.8L641.2,347.5L641.2,351.2L638.8,351.2L637.5,345Z" fill="#fd8d3c"/>
<path d="M631.2,358.8L636.2,358.8L636.2,360.5L631.2,360.5Z" fill="#fd8d3c"/>
<path d="M638,358.5L645,358L645,360L638.5,360.5Z" fill="#fd8d3c"/>
<path d="M646.2,360.5L651.2,358.8L652,360L647.5,362Z" fill="#fd8d3c"/>
<path d="M651.2,359L655.5,358L655.8,359.2L652,360.2Z" fill="url(#hatch)" stroke="#d4d4d4"/>
<path d="M657,331.2L659.5,331.2L660,337.5L658,338.8Z" fill="#fd8d3c"/>
<path d="M653.8,344.5L658.8,343.8L663.8,345L664.5,346.5L658.8,346L654,346Z" fill="#fd8d3c"/>
<path d="M637.2,288.8L641.2,288.8L641.9,292.5L640,295.6L641.2,298.8L645,300L648.1,303.1L651.2,306.9L650,308.1L646.9,305.6L643.8,302.8L640.6,301.2L638.1,298.8L636.5,294.4Z" fill="#fc4e2a"/>
<path d="M642.2,306.2L645,306.9L647.5,310L645.6,312.5L643.5,310Z" fill="#fc4e2a"/>
<path d="M648.1,307.5L650.6,308.8L650,311.2L648.5,310.6Z" fill="#fc4e2a"/>
<path d="M638.8,301.9L641.2,302.8L640.6,304.4L639,303.8Z" fill="#fc4e2a"/>
<path d="M643.8,316.9L647.5,315L650.6,312.5L653.1,313.1L654,317.5L653.1,320.6L651.2,321.5L649.4,319.4L646.9,318.1L644.4,318.5Z" fill="#fc4e2a"/>
<path d="M632.2,314.4L636.9,308.1L637.8,308.8L633.1,315Z" fill="#fc4e2a"/>
<path d="M585,288.8L586.2,293.8L587.8,298.1L589.4,302.5L588.8,306.2L588.8,311.9L587.5,310L586.2,305L585.6,300L584.4,295L583.1,290.6Z" fill="#fd8d3c"/>
<path d="M450,224L453,225L455.5,226.2L460,228.5L457.5,229L455.5,229.5L453,228.5L450.5,227.5Z" fill="url(#hatch)" stroke="#d4d4d4"/>
<path d="M464,226L465.5,228.5L467,231L468,234.5L466.5,236L464,234L462,235.5L460,233L462.5,232L461.5,230L460,228.5Z" fill="#ffffb2"/>
<path d="M455.5,229.5L457.5,229L460,231L462,234.5L461,235.5L458.5,233.5L456.5,232Z" fill="#fc4e2a"/>
<path d="M460.5,220L463,216.5L467,215L471.5,215.5L472,218L469,219.5L468,221.5L470,224L474,226.5L476,229L475.5,232L477,235L479,238.5L476,240L472,239.5L469,237.5L468,234.5L467,231L465.5,228.5L464,226L462,223.5L460,221.5Z" fill="#ffffff" stroke="none"/>
<path d="M614.5,426.2L616.2,421.2L618,415L617,405L619.5,397.5L625,392.5L635,388.8L642.5,381.2L650,375L656.2,373.8L660,370L665.5,367L671.2,368.8L676.2,368L673.8,372.5L677.5,378.8L683.8,382.5L686.2,375L688,368.8L689.5,365L692,371.2L694.5,376.2L695.5,385L700,390L702.5,396.2L705.5,403.8L705,411.2L701.2,418.8L696.2,426.2L690,432.5L682.5,436.2L675,438L667.5,437L663.8,431.2L662,426.2L658.8,427.5L653.8,422.5L647.5,420L640,421.2L632.5,425L625,426.2L618.8,428.8Z" fill="#feb24c"/>
<path d="M667,445.5L672,443L677,443.8L675,448L670,450.5L667.5,449.5Z" fill="#feb24c"/>
<path d="M738.8,427.5L741.2,428.8L742.5,433.8L746.2,436.2L742.5,440L737.5,443.8L733.8,445L735,441.2L738.8,436.2Z" fill="url(#hatch)" stroke="#d4d4d4"/>
<path d="M731.2,443.8L735,445.5L730,450L722.5,453.8L713.8,457.5L707.5,458L706.2,456.2L712.5,453L720,449.5L726.2,446.2Z" fill="url(#hatch)" stroke="#d4d4d4"/>
<path d="M664.5,339.5L671.2,338L673.8,342.5L680,341.2L688,343.8L688,360L683.8,357.5L678.8,353.8L673.8,348.8L668.8,345L665.5,342.5Z" fill="#fd8d3c"/>
<path d="M688,343.8L693.8,345L700,348.8L702.5,353.8L705,357.5L708.8,363.8L706.2,364.5L701.2,360L696.2,357.5L692.5,358.8L688,360Z" fill="url(#hatch)" stroke="#d4d4d4"/>
<path d="M705,351.2L711.2,349.5L715,345L715.5,348.8L712.5,352.5L706.2,353.8Z" fill="url(#hatch)" stroke="#d4d4d4"/>
<path d="M718.8,351.2L722.5,352.5L722,354L719,353Z" fill="url(#hatch)" stroke="#d4d4d4"/>
<path d="M726.2,356.2L731.2,358.8L735,363.8L733.8,364.5L730,360.5L726.2,358Z" fill="url(#hatch)" stroke="#d4d4d4"/>
<path d="M743.5,375L745,375.5L745.2,380L744,379.5Z" fill="url(#hatch)" stroke="#d4d4d4"/>
<path d="M734.2,389.5L736.2,389.5L739.5,394.5L738,395.5Z" fill="url(#hatch)" stroke="#d4d4d4"/>
<path d="M766.2,382.5L769.5,382L770,383.8L767,385Z" fill="#b10026"/>
<path d="M770.5,379.5L773.5,379L773.5,380.5L771,381Z" fill="#b10026"/>
</g><g fill="none" stroke="#6b6b6b" stroke-width="0.4">
<path d="M128.8,159.8L103.8,181.2"/>
<path d="M111.2,209.2L172.5,209.2"/>
<path d="M150,209.5L171.2,209.5L175,210.8L183.8,211.2L187.5,213.8L191.2,217.5L190,222.5L188.8,227L193.8,225L200,223L208.8,220L215.5,217.5L218.8,214.5L222.5,212.5"/>
<path d="M350,270L351.2,277.5L351.2,296.2L335.5,297L330,293.8L324.5,293"/>
<path d="M335.5,297L336.2,303.8L328.8,305.5"/>
<path d="M372.5,286.2L372,293.8L366.2,298.8L361.2,300L355,302.5L351.2,308.8L343.8,312"/>
<path d="M366.2,298.8L370,303.8L372,305.5"/>
<path d="M351.2,308.8L356.2,310L363.8,308.8L367.5,308.5"/>
<path d="M364.5,308.8L365,320.5"/>
<path d="M396.2,276.2L397.5,290L395,301.2L396.2,306.2"/>
<path d="M416.2,308.8L420,312.5L423.8,320L430,325L432.5,326.2"/>
<path d="M400,323.8L403.8,326.2L407.5,323.8L413.8,323.8L420,322.5L425,325L432.5,326.2"/>
<path d="M403.8,326.2L402.5,336.2L398.8,345L393.8,350L391.2,351.2"/>
<path d="M390,348L392,352L401,352.4L403,357L408,355L413,356L414,365L418,366L428,368L430,371L429,360L433,358.4L439,360"/>
<path d="M418,366L414,367L413,370L412.4,382.4"/>
<path d="M431,339L432.4,349L429.6,358"/>
<path d="M439,360L438.4,361.6"/>
<path d="M438.4,368L440,373L437,375L432,378"/>
<path d="M443,367L449,366.4L455,364.4"/>
<path d="M439,360L444,363L443,367"/>
<path d="M528.8,242.5L526.2,251.2L523.8,257.5L520,262.5L517.5,267.5L521.2,271.2L518.8,274.5"/>
<path d="M563.8,267.5L568.8,268.8L571.2,273.8L570.5,278.8"/>
<path d="M563.8,267.5L562.5,271.2L563.8,275L566.2,278.8"/>
<path d="M581.2,263.8L577.5,267.5L576.2,272.5L573.8,276.2L572.5,281.2"/>
</g><g fill="none" stroke="#d0d0d0" stroke-width="0.5">
<path d="M460,300L463,294L470,292L482,288L485,285L492,287"/>
<path d="M485,285L490,279L488,276"/>
</g>
<rect x="186.5" y="537.5" width="47" height="10.5" fill="url(#hatch)" stroke="#c8c8c8" stroke-width="1"/>
<path d="M210,535V537.5" stroke="#c8c8c8" stroke-width="1"/>
<rect x="253.5" y="537.5" width="58.5" height="10.5" fill="#ffffb2"/>
<rect x="312" y="537.5" width="58.5" height="10.5" fill="#fed976"/>
<rect x="370.5" y="537.5" width="58.5" height="10.5" fill="#feb24c"/>
<rect x="429" y="537.5" width="58.5" height="10.5" fill="#fd8d3c"/>
<rect x="487.5" y="537.5" width="58.5" height="10.5" fill="#fc4e2a"/>
<rect x="546" y="537.5" width="58.5" height="10.5" fill="#e31a1c"/>
<rect x="604.5" y="537.5" width="58.5" height="10.5" fill="#b10026"/>
<rect x="253.5" y="537.5" width="409.5" height="10.5" fill="none" stroke="#a8a8a8" stroke-width="0.7"/>
<path d="M253.5,533.5V548" stroke="#a0a0a0" stroke-width="0.7"/>
<path d="M312,533.5V548" stroke="#a0a0a0" stroke-width="0.7"/>
<path d="M370.5,533.5V548" stroke="#a0a0a0" stroke-width="0.7"/>
<path d="M429,533.5V548" stroke="#a0a0a0" stroke-width="0.7"/>
<path d="M487.5,533.5V548" stroke="#a0a0a0" stroke-width="0.7"/>
<path d="M546,533.5V548" stroke="#a0a0a0" stroke-width="0.7"/>
<path d="M604.5,533.5V548" stroke="#a0a0a0" stroke-width="0.7"/>
<path d="M663,533.5V548" stroke="#a0a0a0" stroke-width="0.7"/>
</svg><div class="lg" style="left:186.5px">No data</div>
<div class="lg" style="left:223.5px;width:60px;text-align:center">0%</div>
<div class="lg" style="left:282px;width:60px;text-align:center">1%</div>
<div class="lg" style="left:340.5px;width:60px;text-align:center">2%</div>
<div class="lg" style="left:399px;width:60px;text-align:center">5%</div>
<div class="lg" style="left:457.5px;width:60px;text-align:center">10%</div>
<div class="lg" style="left:516px;width:60px;text-align:center">20%</div>
<div class="lg" style="left:574.5px;width:60px;text-align:center">50%</div>
<div class="lg" style="left:633px;width:60px;text-align:center">100%</div>
<div id="foot1"><b>Data source:</b> FAO and World Bank (2025), using data and methods from Herforth et al. (2022)</div>
<div id="foot2">OurWorldinData.org/food-prices | CC BY</div>
</body></html>
